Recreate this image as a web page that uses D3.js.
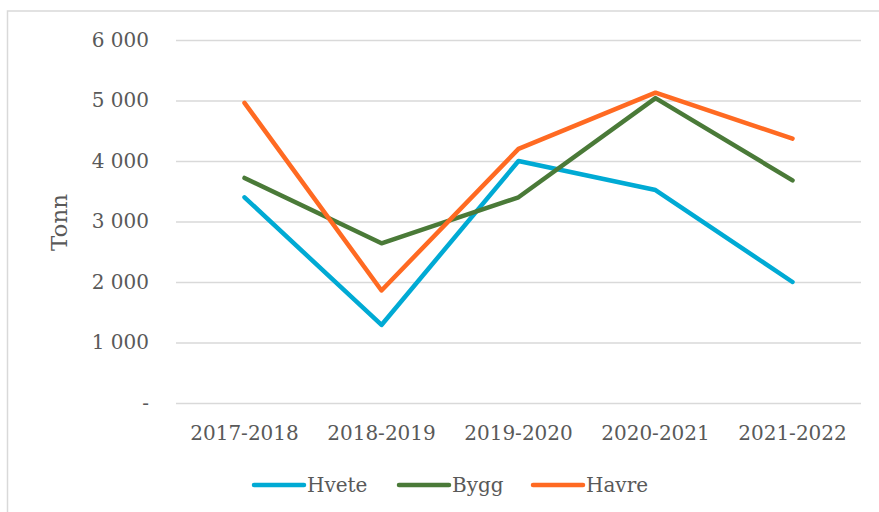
<!DOCTYPE html>
<html lang="no">
<head>
  <meta charset="UTF-8">
  <title>Tonn</title>
  <script src="https://d3js.org/d3.v7.min.js"></script>
  <style>
    body { margin: 0; background: #fff; }
    svg { display: block; }
    svg text { font-family: "DejaVu Serif", Georgia, serif; }
  </style>
</head>
<body>
  <svg width="879" height="512"></svg>

  <script>
    const seasons = [`2017-2018`, `2018-2019`, `2019-2020`, `2020-2021`, `2021-2022`];
    const hvete = [3400, 1290, 4000, 3520, 2000];
    const bygg = [3720, 2640, 3400, 5040, 3680];
    const havre = [4960, 1860, 4200, 5130, 4370];
    const yTicks = [0, 1000, 2000, 3000, 4000, 5000, 6000];

    const series = [
      {name: `Hvete`, values: hvete, color: `#00aad4`},
      {name: `Bygg`, values: bygg, color: `#4a7a38`},
      {name: `Havre`, values: havre, color: `#ff6a22`},
    ];

    const margin = {top: 40, bottom: 109, left: 176, right: 18};
    const width = 879;
    const height = 512;

    const svg = d3.select(`svg`);

    // chart frame
    svg.append(`rect`)
      .attr(`x`, 7.5).attr(`y`, 11)
      .attr(`width`, 900).attr(`height`, 600)
      .attr(`fill`, `none`)
      .attr(`stroke`, `#d9d9d9`)
      .attr(`stroke-width`, 1.5);

    const xScale = d3.scaleBand()
      .domain(seasons)
      .range([margin.left, width - margin.right]);

    const yScale = d3.scaleLinear()
      .domain([0, 6000])
      .range([height - margin.bottom, margin.top]);

    const fmt = v => v === 0 ? `-` : d3.format(`,`)(v).replace(`,`, ` `);

    const yAxis = d3.axisLeft(yScale)
      .tickValues(yTicks)
      .tickSize(-(width - margin.left - margin.right))
      .tickPadding(27)
      .tickFormat(fmt);

    const gy = svg.append(`g`)
      .attr(`transform`, `translate(${margin.left}, 0)`)
      .call(yAxis)
      .attr(`font-family`, null);
    gy.select(`.domain`).remove();
    gy.selectAll(`line`).attr(`stroke`, `#d9d9d9`).attr(`stroke-width`, 1.5);
    gy.selectAll(`text`)
      .attr(`fill`, `#595959`)
      .style(`font-size`, `20px`);

    const xAxis = d3.axisBottom(xScale).tickSize(0).tickPadding(23);
    const gx = svg.append(`g`)
      .attr(`transform`, `translate(0, ${height - margin.bottom})`)
      .call(xAxis)
      .attr(`font-family`, null);
    gx.select(`.domain`).remove();
    gx.selectAll(`text`)
      .attr(`fill`, `#595959`)
      .style(`font-size`, `20px`);

    svg.append(`text`)
      .attr(`transform`, `translate(67, ${(margin.top + height - margin.bottom) / 2 + 1}) rotate(-90)`)
      .attr(`text-anchor`, `middle`)
      .attr(`fill`, `#595959`)
      .style(`font-size`, `23px`)
      .text(`Tonn`);

    const line = d3.line()
      .x((d, i) => xScale(seasons[i]) + xScale.bandwidth() / 2)
      .y(d => yScale(d));

    series.forEach(s => {
      svg.append(`path`)
        .attr(`d`, line(s.values))
        .attr(`fill`, `none`)
        .attr(`stroke`, s.color)
        .attr(`stroke-width`, 4.5)
        .attr(`stroke-linecap`, `round`)
        .attr(`stroke-linejoin`, `round`);
    });

    // legend
    const legendX = [252, 397, 531];
    const legend = svg.append(`g`).attr(`transform`, `translate(0, 485)`);
    series.forEach((s, i) => {
      const g = legend.append(`g`).attr(`transform`, `translate(${legendX[i]}, 0)`);
      g.append(`line`)
        .attr(`x1`, 2).attr(`x2`, 52)
        .attr(`stroke`, s.color)
        .attr(`stroke-width`, 4.5)
        .attr(`stroke-linecap`, `round`);
      g.append(`text`)
        .attr(`x`, 55).attr(`y`, 7)
        .attr(`fill`, `#595959`)
        .style(`font-size`, `20px`)
        .text(s.name);
    });
  </script>
</body>
</html>
